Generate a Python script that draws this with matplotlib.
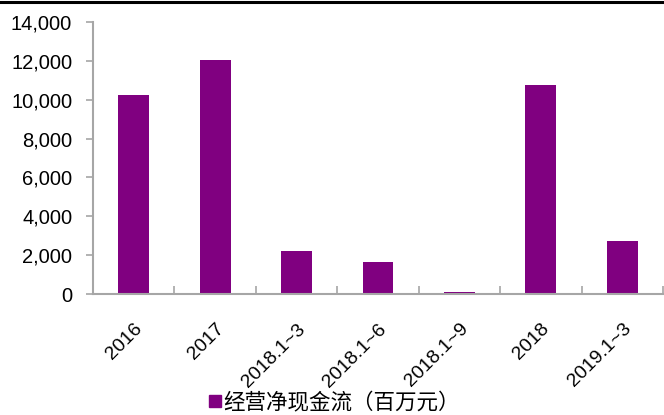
import matplotlib
matplotlib.use("Agg")
import matplotlib.pyplot as plt
from matplotlib.lines import Line2D
from matplotlib.ticker import FuncFormatter, FixedLocator
import numpy as np

# data
periods = ["2016", "2017", "2018.1~3", "2018.1~6", "2018.1~9", "2018", "2019.1~3"]
cash_flow = [10250, 12050, 2220, 1650, 100, 10750, 2730]
series_name = "经营净现金流（百万元）"

purple = "#800080"
grey = "#a6a6a6"

plt.rcParams["font.family"] = ["Liberation Sans", "DejaVu Sans"]

fig = plt.figure(figsize=(6.64, 4.15), dpi=100)
ax = fig.add_axes([93 / 664, 1 - 294 / 415, 570 / 664, 272 / 415])

x = np.arange(len(periods))
ax.bar(x, cash_flow, width=0.38, color=purple, zorder=2)

ax.set_xlim(-0.5, len(periods) - 0.5)
ax.set_ylim(0, 14000)
ax.set_yticks(np.arange(0, 14001, 2000))
ax.yaxis.set_major_formatter(FuncFormatter(lambda v, p: f"{int(v):,}"))

ax.set_xticks(x)
ax.set_xticklabels(periods, rotation=45, ha="right", va="top",
                   rotation_mode="anchor", fontsize=14)
ax.xaxis.set_minor_locator(FixedLocator(np.arange(-0.5, len(periods), 1.0)))
ax.tick_params(axis="x", which="major", length=0, pad=19)
ax.tick_params(axis="x", which="minor", direction="in", length=6, color=grey, width=1.2)
ax.tick_params(axis="y", direction="out", length=5, color=grey, width=1.2,
               labelsize=14.5, pad=10)

for s in ["top", "right"]:
    ax.spines[s].set_visible(False)
for s in ["left", "bottom"]:
    ax.spines[s].set_color(grey)
    ax.spines[s].set_linewidth(1.5)

# thick rule across the top of the figure
fig.add_artist(Line2D([0, 1], [1 - 2 / 415, 1 - 2 / 415], color="black", lw=2.2))

handle = Line2D([], [], marker="s", color=purple, linestyle="none", markersize=9)
fig.legend([handle], [series_name], loc="center", bbox_to_anchor=(333 / 664, 1 - 403 / 415),
           frameon=False, handletextpad=0.0, handlelength=0.8,
           prop={"family": ["Noto Sans CJK SC", "DejaVu Sans"], "size": 15.5})

fig.savefig("out.png", dpi=100)
